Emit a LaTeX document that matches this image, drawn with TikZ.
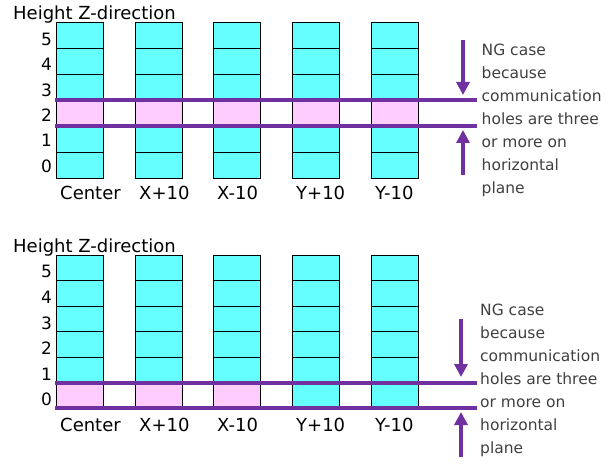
\documentclass[tikz,border=0pt]{standalone}
\usepackage{fontspec}
\setmainfont{DejaVu Sans}
\usetikzlibrary{arrows.meta}
\definecolor{cellcyan}{HTML}{66FFFF}
\definecolor{cellpink}{HTML}{FFCCFF}
\definecolor{ngpurple}{HTML}{7030A0}
\definecolor{notegray}{HTML}{404040}
\tikzset{
  cellbox/.style={draw=black, line width=0.9pt, minimum width=47pt, minimum height=#1,
    inner sep=0pt, outer sep=0pt, anchor=north west},
  axislabel/.style={anchor=base west, inner sep=0pt, font=\fontsize{18}{20}\selectfont},
  rowlabel/.style={anchor=center, inner sep=0pt, font=\fontsize{17}{19}\selectfont},
  collabel/.style={anchor=base west, inner sep=0pt, font=\fontsize{18}{20}\selectfont},
  ngline/.style={draw=ngpurple, line width=4pt},
  ngarrow/.style={draw=ngpurple, line width=4pt, -{Triangle[length=13pt,width=13pt]}},
  notetext/.style={anchor=north west, inner sep=0pt, align=left, text=notegray,
    font=\fontsize{15.5}{23}\selectfont}
}
\begin{document}
\begin{tikzpicture}[x=1pt,y=-1pt]
\useasboundingbox (0,0) rectangle (613,473);
% ---------- top panel ----------
\node[axislabel] (tH) at (13,19.5) {Height Z-direction};
\foreach \c [count=\i] in {56,135,213,292,371}{
  \foreach \r in {0,...,5}{
    \ifnum\r=2 \def\cc{cellpink}\else\def\cc{cellcyan}\fi
    \node[cellbox=26pt, fill=\cc] (t-\i-\r) at (\c,{22+26*(5-\r)}) {};
  }
}
\foreach \r in {0,...,5}{
  \node[rowlabel] (tr-\r) at (46.5,{39.5+25.3*(5-\r)}) {\r};
}
\foreach \c/\t [count=\i] in {56/Center,135/X+10,213/X-10,292/Y+10,371/Y-10}{
  \node[collabel] (tc-\i) at (\c+4,200) {\t};
}
\coordinate (tL1a) at (55,100); \coordinate (tL1b) at (477,100);
\coordinate (tL2a) at (55,126); \coordinate (tL2b) at (477,126);
\draw[ngline] (tL1a) -- (tL1b);
\draw[ngline] (tL2a) -- (tL2b);
\coordinate (tA1s) at (463,40); \coordinate (tA1e) at (463,95);
\coordinate (tA2s) at (463,175); \coordinate (tA2e) at (463,130);
\draw[ngarrow] (tA1s) -- (tA1e);
\draw[ngarrow] (tA2s) -- (tA2e);
\node[notetext] (tN) at (481.5,43.5) {NG case\\because\\communication\\holes are three\\or more on\\horizontal\\plane};
% ---------- bottom panel ----------
\node[axislabel] (bH) at (13,252) {Height Z-direction};
\foreach \c [count=\i] in {56,135,213,292,371}{
  \foreach \r in {0,...,5}{
    \def\cc{cellcyan}
    \ifnum\r=0 \ifnum\i<4 \def\cc{cellpink}\fi\fi
    \node[cellbox=25.4pt, fill=\cc] (b-\i-\r) at (\c,{255.5+25.4*(5-\r)}) {};
  }
}
\foreach \r in {0,...,5}{
  \node[rowlabel] (br-\r) at (46.5,{271.7+25.6*(5-\r)}) {\r};
}
\foreach \c/\t [count=\i] in {56/Center,135/X+10,213/X-10,292/Y+10,371/Y-10}{
  \node[collabel] (bc-\i) at (\c+4,431) {\t};
}
\coordinate (bL1a) at (55,383); \coordinate (bL1b) at (477,383);
\coordinate (bL2a) at (55,408); \coordinate (bL2b) at (477,408);
\draw[ngline] (bL1a) -- (bL1b);
\draw[ngline] (bL2a) -- (bL2b);
\coordinate (bA1s) at (461,319); \coordinate (bA1e) at (461,377);
\coordinate (bA2s) at (461,457); \coordinate (bA2e) at (461,412);
\draw[ngarrow] (bA1s) -- (bA1e);
\draw[ngarrow] (bA2s) -- (bA2e);
\node[notetext] (bN) at (480,303.5) {NG case\\because\\communication\\holes are three\\or more on\\horizontal\\plane};
\end{tikzpicture}
\end{document}
